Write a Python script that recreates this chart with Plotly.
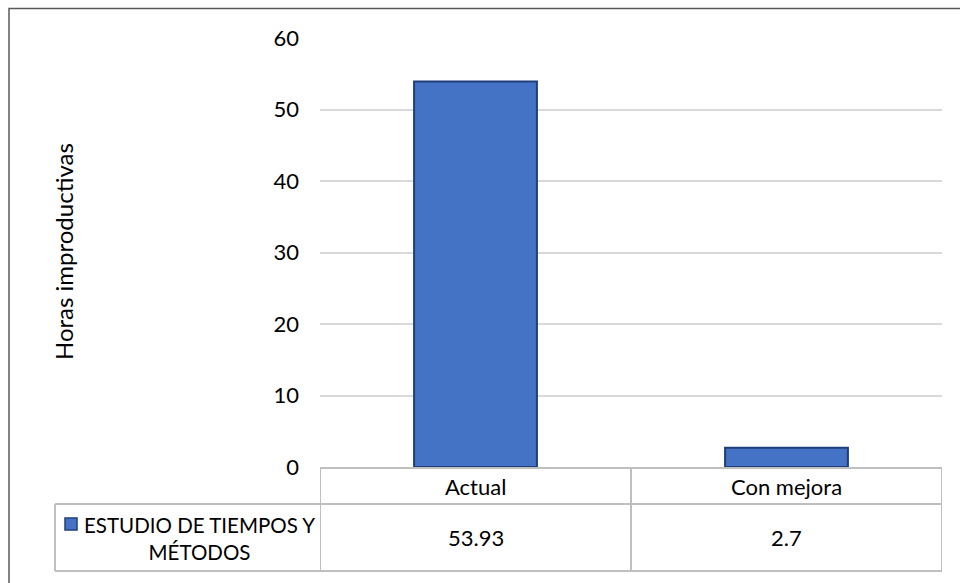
import plotly.graph_objects as go

# Data
categories = ["Actual", "Con mejora"]
values = [53.93, 2.7]
series_name = "ESTUDIO DE TIEMPOS Y<br>MÉTODOS"
value_labels = ["53.93", "2.7"]
y_ticks = [0, 10, 20, 30, 40, 50, 60]

W, H = 960, 583
L, R, T, B = 320, 942, 38, 467   # plot area in pixels
pw, ph = R - L, B - T

def px(xp):
    return (xp - L) / pw

def py(yp):
    return (B - yp) / ph

FONT = "Lato"
GRID = "#d9d9d9"
TABLE = "#bfbfbf"

fig = go.Figure()
fig.add_trace(go.Bar(
    x=list(range(len(categories))), y=values, width=0.395,
    marker=dict(color="#4472C4", line=dict(color="#203f7a", width=2)),
    showlegend=False,
))

shapes = []
# data table grid
row1, row2, cell_left = 504, 571, 55
for yy in (row1, row2):
    shapes.append(dict(type="line", xref="paper", yref="paper", x0=px(cell_left), x1=1, y0=py(yy), y1=py(yy),
                       line=dict(color=TABLE, width=2)))
shapes.append(dict(type="line", xref="paper", yref="paper", x0=px(cell_left), x1=px(cell_left),
                   y0=py(row1), y1=py(row2), line=dict(color=TABLE, width=2)))
for i in range(len(categories) + 1):
    xb = i - 0.5
    shapes.append(dict(type="line", xref="x", yref="paper", x0=xb, x1=xb, y0=0, y1=py(row2),
                       line=dict(color=TABLE, width=2)))
# legend key
shapes.append(dict(type="rect", xref="paper", yref="paper", x0=px(65), x1=px(77), y0=py(530), y1=py(518),
                   fillcolor="#4472C4", line=dict(color="#203f7a", width=1.5)))
# outer chart frame
shapes.append(dict(type="rect", xref="paper", yref="paper", x0=px(9), x1=px(975), y0=py(600), y1=py(8.5),
                   line=dict(color="#595959", width=1.5), fillcolor="rgba(0,0,0,0)", layer="below"))

tfont = dict(family=FONT, size=22, color="#000")
annotations = []
for i, c in enumerate(categories):
    annotations.append(dict(x=i, y=py((B + row1) / 2 + 1), xref="x", yref="paper", text=c, showarrow=False,
                            xanchor="center", yanchor="middle", font=tfont))
    annotations.append(dict(x=i, y=py((row1 + row2) / 2), xref="x", yref="paper", text=value_labels[i],
                            showarrow=False, xanchor="center", yanchor="middle", font=tfont))
annotations.append(dict(x=px(199), y=py(538), xref="paper", yref="paper", text=series_name, showarrow=False,
                        align="center", xanchor="center", yanchor="middle",
                        font=dict(family=FONT, size=20.5, color="#000")))
annotations.append(dict(x=px(63), y=py(252), xref="paper", yref="paper", text="Horas improductivas",
                        textangle=-90, showarrow=False, xanchor="center", yanchor="middle",
                        font=dict(family=FONT, size=24, color="#000")))

fig.update_layout(
    width=W, height=H,
    margin=dict(l=L, r=W - R, t=T, b=H - B),
    paper_bgcolor="white", plot_bgcolor="white",
    shapes=shapes, annotations=annotations,
    xaxis=dict(range=[-0.5, 1.5], showticklabels=False, showgrid=False, zeroline=False,
               showline=True, linecolor=TABLE, linewidth=2, ticks=""),
    yaxis=dict(range=[0, 60], tickvals=y_ticks, showgrid=True, gridcolor=GRID, gridwidth=2,
               zeroline=False, showline=False, ticks="", ticklabelstandoff=20,
               tickfont=dict(family=FONT, size=22, color="#000")),
)

fig.write_html("out.html")
